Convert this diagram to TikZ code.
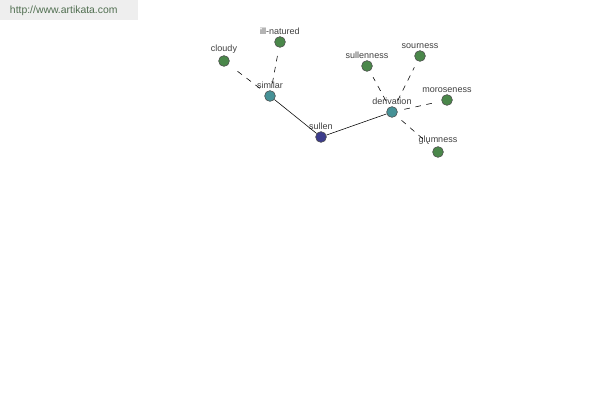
\documentclass[tikz,border=0pt]{standalone}
\usepackage{fontspec}
\setmainfont{Liberation Sans}
\usepackage{tikz}
\usetikzlibrary{positioning}
\usepackage{xcolor}

\definecolor{leafgreen}{RGB}{74,135,74}
\definecolor{hubteal}{RGB}{70,145,150}
\definecolor{rootblue}{RGB}{60,60,140}
\definecolor{urlgray}{RGB}{238,238,238}
\definecolor{urltext}{RGB}{80,110,80}

\begin{document}
\begin{tikzpicture}[
        x=0.025cm, y=-0.025cm,
        dot/.style={circle, draw=black!70, minimum size=0.27cm, inner sep=0pt,
                    label={[lbl]above:#1}},
        leaf/.style={dot=#1, fill=leafgreen},
        hub/.style={dot=#1, fill=hubteal},
        root/.style={dot=#1, fill=rootblue},
        lbl/.style={font=\fontsize{6.4}{7}\selectfont, text=black!75, inner sep=1pt},
        rel/.style={thin, black},
        syn/.style={thin, black, dash pattern=on 4pt off 4pt, shorten <=5pt, shorten >=5pt}
    ]
    \useasboundingbox[fill=white] (0,0) rectangle (600,400);

    % url banner
    \fill[urlgray] (0,0) rectangle (138,20);
    \node[anchor=west, font=\fontsize{7.4}{9}\selectfont, text=urltext] (url) at (5,11) {http://www.artikata.com};

    % nodes
    \node[root=sullen] (sullen) at (321,137) {};
    \node[hub=similar] (similar) at (270,96) {};
    \node[hub=derivation] (derivation) at (392,112) {};
    \node[leaf=cloudy] (cloudy) at (224,61) {};
    \node[leaf=ill-natured] (illnatured) at (280,42) {};
    \node[leaf=sullenness] (sullenness) at (367,66) {};
    \node[leaf=sourness] (sourness) at (420,56) {};
    \node[leaf=moroseness] (moroseness) at (447,100) {};
    \node[leaf=glumness] (glumness) at (438,152) {};

    % edges
    \draw[rel] (sullen) -- (similar);
    \draw[rel] (sullen) -- (derivation);
    \draw[syn] (similar) -- (cloudy);
    \draw[syn] (similar) -- (illnatured);
    \draw[syn] (derivation) -- (sullenness);
    \draw[syn] (derivation) -- (sourness);
    \draw[syn] (derivation) -- (moroseness);
    \draw[syn] (derivation) -- (glumness);

\end{tikzpicture}
\end{document}
